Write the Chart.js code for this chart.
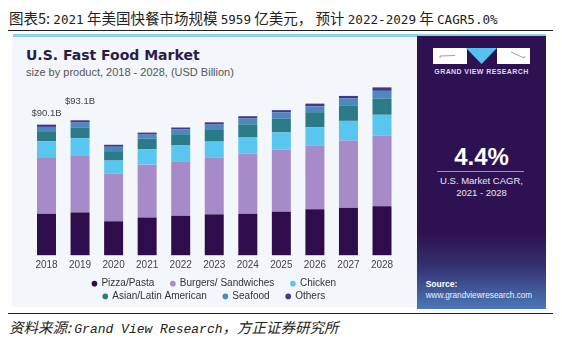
<!DOCTYPE html>
<html lang="zh-CN">
<head>
<meta charset="UTF-8">
<title>U.S. Fast Food Market</title>
<script src="https://cdn.jsdelivr.net/npm/chart.js"></script>
<style>
  body { margin:0; width:562px; height:344px; background:#fff; position:relative; overflow:hidden;
         font-family:"Liberation Sans", Arial, sans-serif; }
  .abs { position:absolute; white-space:nowrap; height:20px; line-height:20px; }
  .mono { font-family:"DejaVu Sans Mono", monospace; font-size:12.6px; }
  #head { left:9px; top:8px; font-family:"Noto Sans CJK SC", sans-serif; font-size:14.5px; color:#222; }
  .rule { position:absolute; left:8px; width:545px; height:1.5px; background:#222; }
  #stripe { position:absolute; left:13px; top:34px; width:533px; height:2.5px; background:#8cd2ef; }
  #board { position:absolute; left:12px; top:36.5px; width:405px; height:270px; background:#f3f6fa; }
  #side { position:absolute; left:417px; top:36px; width:129px; height:273px;
          background:linear-gradient(to bottom, #2e1150 0%, #2e1150 72%, #35306f 84%, #4a78b8 100%); }
  #title { left:26px; top:45px; font-family:"DejaVu Sans", sans-serif; font-weight:bold; font-size:14px; color:#2b1b4b; }
  #sub { left:26px; top:62.3px; font-size:11px; color:#555; }
  .side-t { left:417px; width:129px; text-align:center; color:#fff; }
  #brand { top:62.3px; font-weight:bold; font-size:7px; letter-spacing:0.4px; color:#ddd8ea; }
  #cagr { top:146.7px; font-weight:bold; font-size:24px; }
  #cagrLine { position:absolute; left:437px; top:171px; width:87px; height:1px; background:#9d8fb8; }
  #cagr1 { top:170.7px; font-size:9.5px; color:#ebe7f3; }
  #cagr2 { top:183.3px; font-size:9.5px; color:#ebe7f3; }
  #srcT { left:425.7px; top:274px; font-weight:bold; font-size:8.5px; color:#fff; }
  #srcU { left:425.7px; top:285.7px; font-size:8.2px; color:#eef2fa; }
  #foot { left:9px; top:317px; font-family:"Noto Sans CJK SC", sans-serif; font-size:14.5px; font-style:italic; color:#222; }
  #foot .mono { font-style:italic; font-size:13px; font-family:"Liberation Mono", monospace; }
  #chartBox { position:absolute; left:12px; top:36px; width:404px; height:290px; }
</style>
</head>
<body>

<div id="head" class="abs">图表5: <span class="mono">2021</span> 年美国快餐市场规模 <span class="mono">5959</span> 亿美元， 预计 <span class="mono">2022-2029</span> 年 <span class="mono">CAGR5.0%</span></div>
<div class="rule" style="top:29.5px"></div>
<div id="stripe"></div>
<div id="board"></div>
<div id="side"></div>

<div id="title" class="abs">U.S. Fast Food Market</div>
<div id="sub" class="abs">size by product, 2018 - 2028, (USD Billion)</div>

<svg class="abs" style="left:433px; top:48px; height:17px" width="97" height="17" viewBox="0 0 97 17">
  <rect x="0" y="0" width="34" height="16" fill="#ffffff"/>
  <rect x="64" y="0" width="33" height="16" fill="#ffffff"/>
  <polygon points="33,0 64,0 48.5,16" fill="#55c3ee"/>
  <path d="M7 8 L22 7.5" stroke="#8a8a8a" stroke-width="0.8" fill="none"/>
  <path d="M7 8 L7 10" stroke="#8a8a8a" stroke-width="0.8" fill="none"/>
  <path d="M78 4 L91 10 L92 8" stroke="#8a8a8a" stroke-width="0.8" fill="none"/>
</svg>
<div id="brand" class="abs side-t">GRAND VIEW RESEARCH</div>
<div id="cagr" class="abs side-t">4.4%</div>
<div id="cagrLine"></div>
<div id="cagr1" class="abs side-t">U.S. Market CAGR,</div>
<div id="cagr2" class="abs side-t">2021 - 2028</div>
<div id="srcT" class="abs">Source:</div>
<div id="srcU" class="abs">www.grandviewresearch.com</div>

<div class="rule" style="top:312.5px"></div>
<div id="foot" class="abs">资料来源: <span class="mono">Grand View Research</span>，方正证券研究所</div>

<div id="chartBox"><canvas id="myChart"></canvas></div>

<script>
    // Years on the x axis
    var years = ['2018', '2019', '2020', '2021', '2022', '2023', '2024', '2025', '2026', '2027', '2028'];

    // Market size by product, USD billion
    var pizzaPasta = [28.5, 29.5, 23.4, 26.0, 27.1, 28.2, 28.6, 30.0, 31.7, 32.6, 33.8];
    var burgersSandwiches = [38.5, 39.5, 33.0, 36.5, 37.7, 39.0, 41.4, 42.8, 43.7, 46.5, 48.6];
    var chicken = [11.7, 11.7, 8.9, 10.5, 11.2, 11.2, 11.2, 11.9, 12.8, 13.6, 14.5];
    var asianLatin = [6.3, 7.5, 6.5, 7.4, 7.5, 8.0, 9.1, 9.6, 10.5, 10.7, 11.2];
    var seafood = [3.5, 3.3, 3.0, 2.8, 3.2, 3.7, 4.0, 4.2, 4.0, 4.7, 5.3];
    var others = [1.6, 1.6, 1.4, 1.4, 1.4, 1.6, 1.6, 1.6, 1.9, 1.8, 2.4];

    // Total labels shown above the first bars
    var totalLabels = ['$90.1B', '$93.1B'];

    var seriesNames = ['Pizza/Pasta', 'Burgers/ Sandwiches', 'Chicken', 'Asian/Latin American', 'Seafood', 'Others'];
    var seriesData = [pizzaPasta, burgersSandwiches, chicken, asianLatin, seafood, others];
    var seriesColors = ['#2f0d4d', '#a68bc8', '#58c6ef', '#2b7a88', '#4b88bf', '#3d3a8d'];

    // Writes the total labels over their bars
    var totalTags = {
        id: 'totalTags',
        afterDatasetsDraw: function (chart) {
            var ctx = chart.ctx;
            var x = chart.scales.x, y = chart.scales.y;
            var lift = [11, 19];
            ctx.save();
            ctx.font = '9.5px "Liberation Sans"';
            ctx.fillStyle = '#444';
            ctx.textAlign = 'center';
            ctx.textBaseline = 'middle';
            totalLabels.forEach(function (t, i) {
                var sum = chart.data.datasets.reduce(function (s, d) { return s + d.data[i]; }, 0);
                ctx.fillText(t, x.getPixelForValue(i), y.getPixelForValue(sum) - lift[i]);
            });
            ctx.restore();
        }
    };

    var ctx = document.getElementById('myChart').getContext('2d');
    var myChart = new Chart(ctx, {
        type: 'bar',
        data: {
            labels: years,
            datasets: seriesNames.map(function (name, i) {
                return {
                    label: name,
                    data: seriesData[i],
                    backgroundColor: seriesColors[i],
                    borderWidth: 0,
                    barPercentage: 0.566,
                    categoryPercentage: 1,
                    clip: false
                };
            })
        },
        options: {
            responsive: true,
            maintainAspectRatio: false,
            animation: false,
            layout: { padding: { left: 34.5, right: 34, top: 45.3, bottom: 14.6 } },
            scales: {
                x: {
                    stacked: true,
                    offset: false,
                    grid: { display: false, drawTicks: false },
                    border: { display: false },
                    ticks: { color: '#444', font: { family: 'Liberation Sans', size: 10 }, padding: 3.7, maxRotation: 0, autoSkip: false }
                },
                y: { stacked: true, display: false, min: 0, max: 120 }
            },
            plugins: {
                tooltip: { enabled: false },
                legend: {
                    position: 'bottom',
                    title: { display: true, text: ' ', font: { size: 1, lineHeight: 1 }, padding: { top: 0.4, bottom: 0 } },
                    labels: {
                        usePointStyle: true,
                        pointStyle: 'circle',
                        boxWidth: 4,
                        boxHeight: 4,
                        padding: 2.7,
                        color: '#333',
                        font: { family: 'Liberation Sans', size: 10 },
                        generateLabels: function (chart) {
                            var items = Chart.defaults.plugins.legend.labels.generateLabels(chart);
                            items.forEach(function (it, i) {
                                // trailing spaces keep the gaps between items, three per row
                                if (i % 3 !== 2) it.text = it.text + '     ';
                                it.lineWidth = 0;
                            });
                            return items;
                        }
                    }
                }
            }
        },
        plugins: [totalTags]
    });
</script>

</body>
</html>
